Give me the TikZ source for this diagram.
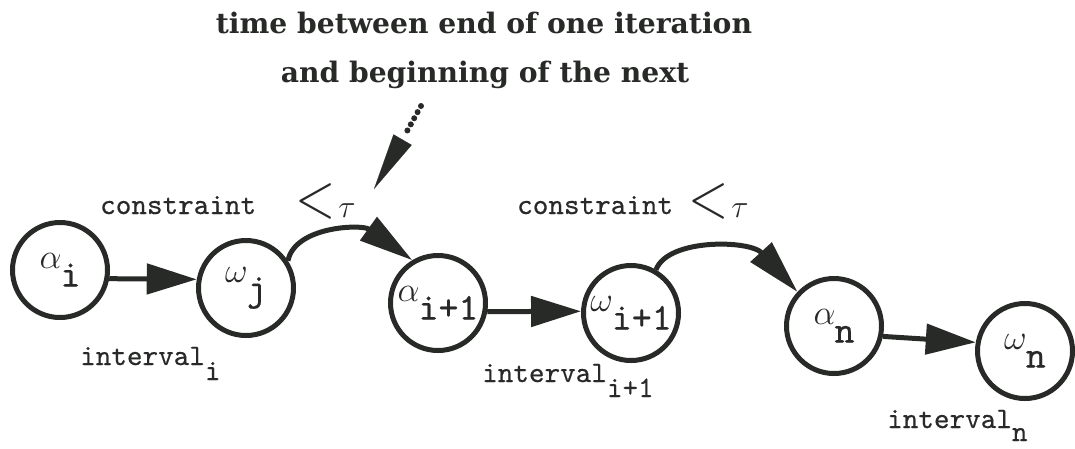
\RequirePackage{fix-cm}
\documentclass[tikz,border=0pt]{standalone}
\usepackage{fontspec}
\newfontfamily\headfont{DejaVu Serif}
\newfontfamily\mymono{lmmono10-regular.otf}[FakeBold=0.5]
\usetikzlibrary{arrows.meta}
\definecolor{ink}{RGB}{40,42,40}
\newcommand{\glab}[2]{\raisebox{8pt}{\fontsize{35}{37}\selectfont$#1$}\kern-1pt\raisebox{-10pt}{\mymono\fontsize{38}{40}\selectfont #2}}
\newcommand{\lttau}{\scalebox{1.15}[1.4]{\fontsize{46}{46}\selectfont$<$}\kern3pt{\fontsize{32}{34}\selectfont$\tau$}}
\begin{document}
\begin{tikzpicture}[x=1pt,y=-1pt,
  state/.style={circle,draw=ink,line width=5pt,minimum size=95pt,inner sep=0pt,text=ink},
  link/.style={draw=ink,line width=5pt,-{Triangle[length=50pt,width=30pt]}},
  curvelink/.style={draw=ink,line width=5pt,-{Triangle[length=54pt,width=28pt]}},
  mono/.style={font=\mymono\fontsize{29.7}{32}\selectfont,text=ink,inner sep=0pt},
  head/.style={font=\headfont\bfseries\fontsize{28.2}{30}\selectfont,text=ink,inner sep=0pt},
  dots/.style={draw=ink,line width=6pt,line cap=round,dash pattern=on 0pt off 7pt}]
\useasboundingbox (0,0) rectangle (1075,448);
% header
\node[head,anchor=base] (h1) at (484,33) {time between end of one iteration};
\node[head,anchor=base] (h2) at (485,82) {and beginning of the next};
% states
\node[state] (ai)  at (60,270)   {\glab{\alpha}{i}};
\node[state] (wj)  at (246,288)  {\glab{\omega}{j}};
\node[state] (aip) at (438,303)  {\glab{\alpha}{i+1}};
\node[state] (wip) at (631,313)  {\glab{\omega}{i+1}};
\node[state] (an)  at (834,326)  {\glab{\alpha}{n}};
\node[state] (wn)  at (1025,351) {\glab{\omega}{n}};
% labels
\node[mono,anchor=base west] (c1) at (100,214) {constraint};
\node[text=ink,inner sep=0pt,anchor=base west] (t1) at (295,217) {\lttau};
\node[mono,anchor=base west] (c2) at (517,214) {constraint};
\node[text=ink,inner sep=0pt,anchor=base west] (t2) at (688,217) {\lttau};
\node[mono,anchor=base west] (iv1) at (80,365) {interval\raisebox{-15pt}{i}};
\node[mono,anchor=base west] (iv2) at (482,382) {interval\raisebox{-15pt}{i+1}};
\node[mono,anchor=base west] (iv3) at (887,428) {interval\raisebox{-13pt}{n}};
% connectors
\draw[link] (ai.-10) -- (wj.170);
\draw[link] (aip.-10) -- (wip.178);
\draw[link] (an.-12) -- (wn.170);
\draw[curvelink] (wj.33) .. controls (295,226) and (362,224) .. (aip.121);
\draw[curvelink] (wip.60) .. controls (668,238) and (750,240) .. (an.137);
% dotted pointer
\coordinate (d0) at (421,106);
\coordinate (d1) at (406,133);
\coordinate (dbase) at (403,139);
\coordinate (dtip) at (374,189);
\draw[dots] (d0) -- (d1);
\draw[draw=ink,line width=0.1pt,-{Triangle[length=57pt,width=21pt]}] (dbase) -- (dtip);
\end{tikzpicture}
\end{document}
